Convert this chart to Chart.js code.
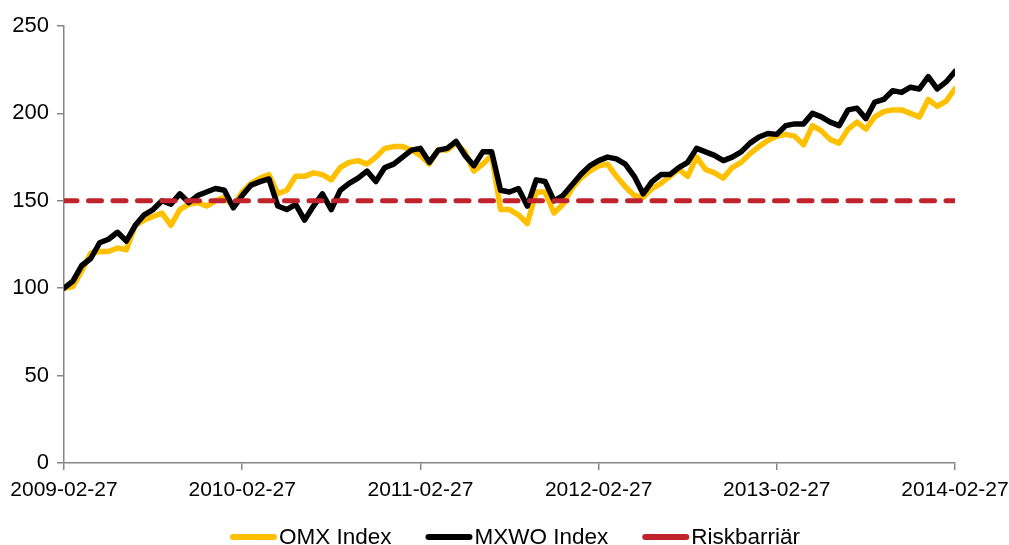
<!DOCTYPE html>
<html>
<head>
<meta charset="utf-8">
<script src="https://cdn.jsdelivr.net/npm/chart.js@4"></script>
<style>
  html, body { margin: 0; padding: 0; background: #fff; }
  #caja { width: 1009px; height: 545px; }
</style>
</head>
<body>
<div id="caja"><canvas id="myChart" width="1009" height="545"></canvas></div>
<script>
// datum på x-axeln (ett per år)
const tickDatum = ["2009-02-27", "2010-02-27", "2011-02-27", "2012-02-27", "2013-02-27", "2014-02-27"];

// indexnivåer, ungefär var 18:e handelsdag (20 punkter per år)
const omx = [
  100, 101, 110, 120, 121, 121, 123, 122, 136, 139,
  141, 143, 136, 145, 148, 149, 147, 150, 152, 147,
  155, 160, 163, 165, 154, 156, 164, 164, 166, 165,
  162, 169, 172, 173, 171, 175, 180, 181, 181, 179,
  176, 171, 179, 179, 183, 178, 167, 171, 176, 145,
  145, 142, 137, 155, 155, 143, 148, 157, 163, 167,
  170, 171, 164, 158, 153, 152, 157, 160, 164, 168,
  164, 175, 168, 166, 163, 169, 172, 177, 181, 184.5,
  187, 188, 187, 182, 193, 190, 185, 183, 191, 195,
  191, 198, 201, 202, 202, 200, 198, 208, 204, 207,
  214
];

const mxwo = [
  100, 104, 113, 117, 126, 128, 132, 127, 136, 142,
  145, 150, 148, 154, 149, 153, 155, 157, 156, 146,
  153, 159, 161, 162.5, 147, 145, 148, 139, 147, 154,
  145, 156, 160, 163, 167, 161, 169, 171, 175, 179,
  180, 172, 179, 180, 184, 176, 170, 178, 178, 156,
  155, 157, 147, 162, 161, 150, 153, 159, 165, 170,
  173, 175, 174, 171, 164, 154, 161, 165, 165, 169,
  172, 180, 178, 176, 173, 175, 178, 183, 186.5, 188.5,
  188, 193, 194, 194, 200, 198, 195, 193, 202, 203,
  197, 206.5, 208, 213, 212, 215, 214, 221, 214, 218,
  224
];

const riskbarriar = 150;

const yTicks = [0, 50, 100, 150, 200, 250];

function punkter(values) {
  return values.map((v, i) => ({ x: i, y: v }));
}

const sista = omx.length - 1;
const typsnitt = "Arial, 'Liberation Sans', sans-serif";

// egen legend: kort linje tätt intill texten, som i Excel
const egenLegend = {
  id: "egenLegend",
  afterDraw(chart) {
    const c = chart.ctx;
    const ds = chart.data.datasets;
    const boxW = 47, boxH = 6, glapp = 2, mellan = 34;
    c.save();
    c.font = "22.5px " + typsnitt;
    c.textBaseline = "middle";
    const bredd = ds.map((d) => boxW + glapp + c.measureText(d.label).width);
    const total = bredd.reduce((a, b) => a + b, 0) + mellan * (ds.length - 1);
    let x = 515 - total / 2;
    const y = 537;
    ds.forEach((d, i) => {
      c.fillStyle = d.borderColor;
      c.beginPath();
      c.roundRect(x, y - boxH / 2, boxW, boxH, boxH / 2);
      c.fill();
      c.fillStyle = "#000";
      c.fillText(d.label, x + boxW + glapp, y + 1);
      x += bredd[i] + mellan;
    });
    c.restore();
  },
};

const ctx = document.getElementById("myChart").getContext("2d");

new Chart(ctx, {
  type: "line",
  data: {
    datasets: [
      {
        label: "OMX Index",
        data: punkter(omx),
        borderColor: "#FFC000",
        borderWidth: 5.5,
        borderJoinStyle: "round",
        borderCapStyle: "round",
        pointRadius: 0,
        tension: 0,
        order: 3,
      },
      {
        label: "MXWO Index",
        data: punkter(mxwo),
        borderColor: "#000000",
        borderWidth: 5.5,
        borderJoinStyle: "round",
        borderCapStyle: "round",
        pointRadius: 0,
        tension: 0,
        order: 2,
      },
      {
        label: "Riskbarriär",
        data: [{ x: 0, y: riskbarriar }, { x: sista, y: riskbarriar }],
        borderColor: "#C0232C",
        borderWidth: 5,
        borderDash: [13, 11.5],
        borderCapStyle: "round",
        pointRadius: 0,
        order: 1,
      },
    ],
  },
  options: {
    responsive: false,
    animation: false,
    devicePixelRatio: 1,
    layout: { padding: { top: 26, right: 54, left: 0, bottom: 0 } },
    plugins: {
      tooltip: { enabled: false },
      legend: { display: false },
    },
    scales: {
      x: {
        type: "linear",
        min: 0,
        max: sista,
        afterBuildTicks: (scale) => {
          scale.ticks = tickDatum.map((d, i) => ({ value: (i * sista) / (tickDatum.length - 1) }));
        },
        afterFit: (scale) => {
          scale.height = 82;
          scale.paddingLeft = 0;
          scale.paddingRight = 0;
        },
        ticks: {
          font: { family: typsnitt, size: 21 },
          color: "#000",
          padding: 8,
          maxRotation: 0,
          autoSkip: false,
          callback: (value, index) => tickDatum[index],
        },
        grid: { drawOnChartArea: false, drawTicks: true, tickLength: 7, color: "#868686", lineWidth: 1.5 },
        border: { color: "#868686", width: 1.5 },
      },
      y: {
        min: 0,
        max: 250,
        afterBuildTicks: (scale) => {
          scale.ticks = yTicks.map((v) => ({ value: v }));
        },
        afterFit: (scale) => {
          scale.width = 64;
        },
        ticks: { font: { family: typsnitt, size: 22 }, color: "#000", padding: 8 },
        grid: { drawOnChartArea: false, drawTicks: true, tickLength: 7, color: "#868686", lineWidth: 1.5 },
        border: { color: "#868686", width: 1.5 },
      },
    },
  },
  plugins: [egenLegend],
});
</script>
</body>
</html>
